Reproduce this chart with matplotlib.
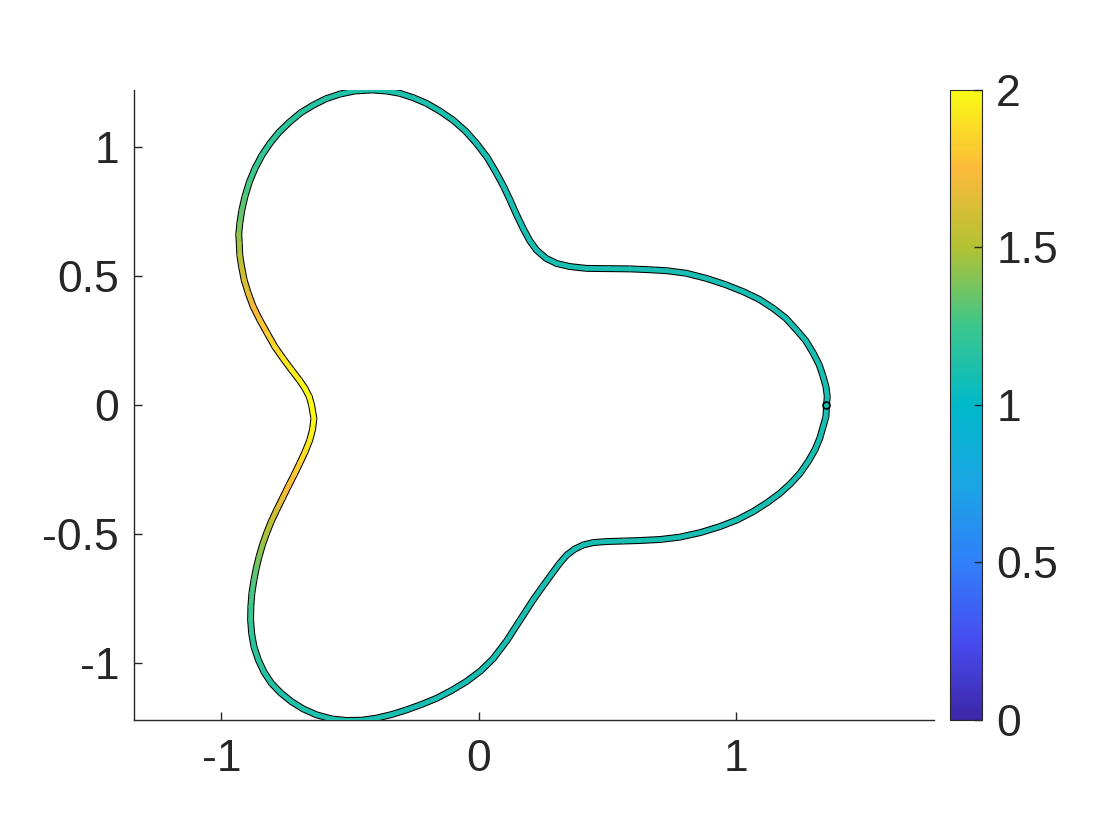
import numpy as np
import matplotlib
matplotlib.use("Agg")
import matplotlib.pyplot as plt
from matplotlib.collections import LineCollection
from matplotlib.colors import LinearSegmentedColormap, Normalize

plt.rcParams['font.family'] = ['Liberation Sans', 'DejaVu Sans']
plt.rcParams['axes.unicode_minus'] = False

# curve points, counterclockwise from the marked point
x_pts = [1.352, 1.355, 1.350, 1.339, 1.324, 1.301, 1.272, 1.236, 1.194, 1.145,
         1.091, 1.028, 0.957, 0.886, 0.808, 0.731, 0.659, 0.588, 0.504, 0.420,
         0.355, 0.303, 0.262, 0.225, 0.199, 0.173, 0.148, 0.122, 0.098, 0.070,
         0.034, -0.008, -0.051, -0.099, -0.150, -0.202, -0.254, -0.306, -0.358, -0.416,
         -0.481, -0.539, -0.593, -0.643, -0.691, -0.733, -0.775, -0.811, -0.842, -0.869,
         -0.891, -0.908, -0.920, -0.928, -0.932, -0.930, -0.928, -0.921, -0.911, -0.895,
         -0.876, -0.850, -0.821, -0.792, -0.759, -0.727, -0.697, -0.675, -0.658, -0.649,
         -0.640, -0.645, -0.656, -0.674, -0.695, -0.717, -0.740, -0.762, -0.785, -0.806,
         -0.824, -0.840, -0.853, -0.864, -0.873, -0.881, -0.885, -0.886, -0.882, -0.873,
         -0.856, -0.834, -0.805, -0.768, -0.727, -0.682, -0.630, -0.571, -0.513, -0.455,
         -0.397, -0.338, -0.280, -0.222, -0.163, -0.105, -0.047, 0.008, 0.057, 0.109,
         0.160, 0.212, 0.249, 0.284, 0.312, 0.342, 0.372, 0.407, 0.446, 0.497,
         0.562, 0.627, 0.705, 0.782, 0.863, 0.938, 1.005, 1.067, 1.122, 1.171,
         1.212, 1.249, 1.281, 1.307, 1.326, 1.339, 1.350, 1.352]
y_pts = [0.000, 0.032, 0.071, 0.110, 0.155, 0.200, 0.248, 0.290, 0.336, 0.374,
         0.409, 0.439, 0.467, 0.490, 0.510, 0.520, 0.524, 0.527, 0.528, 0.529,
         0.536, 0.548, 0.568, 0.600, 0.636, 0.684, 0.736, 0.794, 0.845, 0.897,
         0.958, 1.013, 1.061, 1.103, 1.138, 1.168, 1.190, 1.207, 1.216, 1.220,
         1.216, 1.204, 1.186, 1.161, 1.132, 1.097, 1.057, 1.013, 0.967, 0.916,
         0.863, 0.807, 0.755, 0.703, 0.662, 0.626, 0.581, 0.536, 0.484, 0.432,
         0.381, 0.329, 0.277, 0.226, 0.179, 0.136, 0.097, 0.065, 0.032, 0.000,
         -0.052, -0.094, -0.136, -0.181, -0.226, -0.271, -0.316, -0.361, -0.407, -0.452,
         -0.497, -0.542, -0.587, -0.632, -0.678, -0.729, -0.781, -0.832, -0.884, -0.936,
         -0.987, -1.034, -1.078, -1.116, -1.149, -1.177, -1.200, -1.216, -1.222, -1.221,
         -1.213, -1.199, -1.181, -1.160, -1.136, -1.106, -1.071, -1.030, -0.982, -0.914,
         -0.835, -0.755, -0.703, -0.655, -0.617, -0.582, -0.559, -0.542, -0.533, -0.529,
         -0.527, -0.525, -0.521, -0.512, -0.494, -0.471, -0.445, -0.413, -0.378, -0.342,
         -0.305, -0.265, -0.219, -0.174, -0.129, -0.084, -0.045, 0.000]
c_vals = [1.10, 1.10, 1.10, 1.10, 1.10, 1.10, 1.10, 1.10, 1.10, 1.10,
          1.10, 1.10, 1.10, 1.10, 1.10, 1.10, 1.10, 1.10, 1.10, 1.10,
          1.10, 1.10, 1.10, 1.10, 1.10, 1.10, 1.10, 1.10, 1.10, 1.10,
          1.10, 1.10, 1.11, 1.11, 1.11, 1.12, 1.12, 1.12, 1.13, 1.13,
          1.13, 1.14, 1.15, 1.16, 1.17, 1.18, 1.19, 1.20, 1.22, 1.24,
          1.26, 1.29, 1.32, 1.36, 1.40, 1.45, 1.50, 1.55, 1.60, 1.66,
          1.71, 1.76, 1.81, 1.86, 1.90, 1.93, 1.96, 1.98, 1.99, 2.00,
          1.99, 1.97, 1.94, 1.90, 1.85, 1.80, 1.75, 1.69, 1.63, 1.56,
          1.50, 1.45, 1.40, 1.35, 1.31, 1.28, 1.25, 1.22, 1.20, 1.18,
          1.17, 1.16, 1.15, 1.14, 1.13, 1.13, 1.12, 1.12, 1.12, 1.11,
          1.11, 1.11, 1.10, 1.10, 1.10, 1.10, 1.10, 1.10, 1.10, 1.10,
          1.10, 1.10, 1.10, 1.10, 1.10, 1.10, 1.10, 1.10, 1.10, 1.10,
          1.10, 1.10, 1.10, 1.10, 1.10, 1.10, 1.10, 1.10, 1.10, 1.10,
          1.10, 1.10, 1.10, 1.10, 1.10, 1.10, 1.10, 1.10]

cbar_ticks = [0, 0.5, 1, 1.5, 2]
cbar_labels = ['0', '0.5', '1', '1.5', '2']
x_ticks = [-1, 0, 1]
y_ticks = [-1, -0.5, 0, 0.5, 1]
y_labels = ['-1', '-0.5', '0', '0.5', '1']

# parula-like colormap
parula = LinearSegmentedColormap.from_list('parula', [
    (0.000, (0.2422, 0.1504, 0.6603)),
    (0.125, (0.2760, 0.3000, 0.9400)),
    (0.250, (0.1900, 0.5000, 0.9800)),
    (0.375, (0.1000, 0.6500, 0.8900)),
    (0.500, (0.0000, 0.7250, 0.7900)),
    (0.625, (0.2300, 0.7800, 0.5500)),
    (0.750, (0.7000, 0.7600, 0.2000)),
    (0.875, (0.9900, 0.7300, 0.2300)),
    (1.000, (0.9769, 0.9839, 0.0805)),
])
dark = '#262626'

fig = plt.figure(figsize=(11.2, 8.4), dpi=100)
ax = fig.add_axes([0.1199, 0.1429, 0.7143, 0.75])

xs = np.array(x_pts)
ys = np.array(y_pts)
cs = np.array(c_vals)
pts = np.column_stack([xs, ys]).reshape(-1, 1, 2)
segs = np.concatenate([pts[:-1], pts[1:]], axis=1)

# black outline under the coloured ribbon
ax.plot(xs, ys, color='black', lw=5.0, solid_joinstyle='round', solid_capstyle='round', zorder=2)
lc = LineCollection(segs, cmap=parula, norm=Normalize(0, 2), linewidths=3.5,
                    capstyle='round', joinstyle='round', zorder=3)
lc.set_array(0.5 * (cs[:-1] + cs[1:]))
ax.add_collection(lc)
ax.plot(x_pts[0], y_pts[0], 'o', mfc='none', mec='black', ms=5, mew=1.2, zorder=4)

ax.set_xlim(-1.338, 1.771)
ax.set_ylim(-1.22, 1.22)
ax.set_xticks(x_ticks)
ax.set_xticklabels([str(t) for t in x_ticks])
ax.set_yticks(y_ticks)
ax.set_yticklabels(y_labels)
for s in ['top', 'right']:
    ax.spines[s].set_visible(False)
for s in ['left', 'bottom']:
    ax.spines[s].set_color(dark)
    ax.spines[s].set_linewidth(1.0)
ax.tick_params(direction='in', length=5.5, width=1.0, color=dark, labelcolor=dark,
               labelsize=32)
ax.tick_params(axis='y', pad=11)
ax.tick_params(axis='x', pad=14)

cax = fig.add_axes([0.8482, 0.1429, 0.0288, 0.75])
cb = fig.colorbar(lc, cax=cax, ticks=cbar_ticks)
cb.set_ticklabels(cbar_labels)
cb.outline.set_edgecolor(dark)
cb.outline.set_linewidth(0.8)
cax.tick_params(direction='in', length=5.5, width=1.0, color=dark, labelcolor=dark,
                labelsize=32, pad=10)

fig.savefig('out.png', dpi=100)
